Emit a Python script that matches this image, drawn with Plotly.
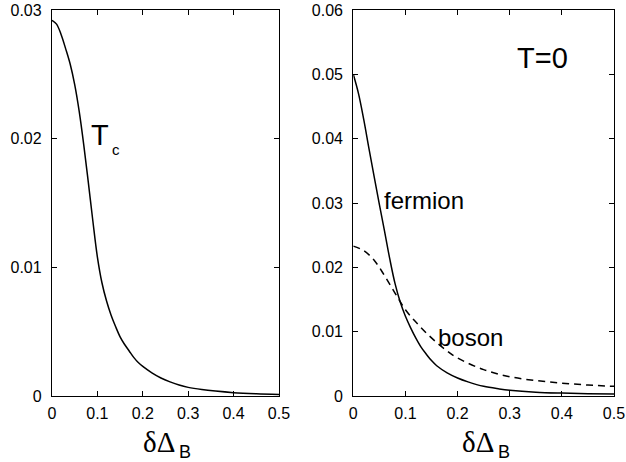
import plotly.graph_objects as go

# ---- data ----
x_tc = [0, 0.01, 0.02, 0.03, 0.04, 0.05, 0.06, 0.07, 0.08, 0.09, 0.10, 0.11, 0.12, 0.13,
        0.14, 0.15, 0.16, 0.17, 0.18, 0.19, 0.20, 0.22, 0.24, 0.26, 0.28, 0.30, 0.33,
        0.36, 0.40, 0.45, 0.50]
y_tc = [0.0292, 0.0289, 0.0281, 0.0270, 0.0258, 0.0242, 0.0221, 0.0195, 0.0166, 0.0136,
        0.0108, 0.0088, 0.0074, 0.0063, 0.0054, 0.0046, 0.0040, 0.0035, 0.0030, 0.0026,
        0.0023, 0.0018, 0.0014, 0.0011, 0.00085, 0.00067, 0.00050, 0.00038, 0.00026,
        0.00017, 0.00011]

x_fermion = [0, 0.01, 0.02, 0.03, 0.04, 0.05, 0.06, 0.07, 0.08, 0.09, 0.10, 0.11, 0.12,
             0.13, 0.14, 0.15, 0.16, 0.18, 0.20, 0.22, 0.25, 0.28, 0.30, 0.35, 0.40,
             0.45, 0.50]
y_fermion = [0.0500, 0.0470, 0.0430, 0.0385, 0.0341, 0.0298, 0.0256, 0.0213, 0.0175,
             0.0146, 0.0124, 0.0106, 0.0090, 0.0076, 0.0065, 0.0055, 0.0047, 0.0036,
             0.0028, 0.0022, 0.0015, 0.0011, 0.0009, 0.0006, 0.00045, 0.00035, 0.0003]

x_boson = [0, 0.02, 0.04, 0.06, 0.08, 0.10, 0.12, 0.14, 0.16, 0.18, 0.20, 0.25, 0.30,
           0.35, 0.40, 0.45, 0.50]
y_boson = [0.0233, 0.0226, 0.0211, 0.0187, 0.0160, 0.0134, 0.0115, 0.0098, 0.0083, 0.0070,
           0.0059, 0.0041, 0.0030, 0.0024, 0.0020, 0.0017, 0.0015]

x_ticks = [0, 0.1, 0.2, 0.3, 0.4, 0.5]
x_ticklabels = ["0", "0.1", "0.2", "0.3", "0.4", "0.5"]
y1_ticks = [0, 0.01, 0.02, 0.03]
y1_ticklabels = ["0", "0.01", "0.02", "0.03"]
y2_ticks = [0, 0.01, 0.02, 0.03, 0.04, 0.05, 0.06]
y2_ticklabels = ["0", "0.01", "0.02", "0.03", "0.04", "0.05", "0.06"]

FONT = "Liberation Sans, Arial, sans-serif"
SERIF = "Liberation Serif, Times New Roman, serif"

fig = go.Figure()
fig.add_trace(go.Scatter(x=x_tc, y=y_tc, mode="lines", xaxis="x", yaxis="y",
                         line=dict(color="black", width=1.5, shape="spline", smoothing=1),
                         showlegend=False))
fig.add_trace(go.Scatter(x=x_fermion, y=y_fermion, mode="lines", xaxis="x2", yaxis="y2",
                         line=dict(color="black", width=1.5, shape="spline", smoothing=1),
                         showlegend=False))
fig.add_trace(go.Scatter(x=x_boson, y=y_boson, mode="lines", xaxis="x2", yaxis="y2",
                         line=dict(color="black", width=1.5, dash="7px,5px",
                                   shape="spline", smoothing=1),
                         showlegend=False))

axis_common = dict(showline=True, linecolor="black", linewidth=1.3, mirror="ticks",
                   ticks="inside", ticklen=5, tickwidth=1, tickcolor="black",
                   showgrid=False, zeroline=False, automargin=False,
                   tickfont=dict(family=FONT, size=16, color="black"))

fig.update_layout(
    width=626, height=462,
    margin=dict(l=52, r=12, t=10, b=66, autoexpand=False),
    paper_bgcolor="white", plot_bgcolor="white",
    font=dict(family=FONT, color="black"),
    xaxis=dict(domain=[0, 0.4039], range=[0, 0.5], anchor="y",
               tickvals=x_ticks, ticktext=x_ticklabels, ticklabelstandoff=3, **axis_common),
    yaxis=dict(domain=[0, 1], range=[0, 0.03], anchor="x",
               tickvals=y1_ticks, ticktext=y1_ticklabels, ticklabelstandoff=6, **axis_common),
    xaxis2=dict(domain=[0.5361, 1], range=[0, 0.5], anchor="y2",
                tickvals=x_ticks, ticktext=x_ticklabels, ticklabelstandoff=3, **axis_common),
    yaxis2=dict(domain=[0, 1], range=[0, 0.06], anchor="x2",
                tickvals=y2_ticks, ticktext=y2_ticklabels, ticklabelstandoff=6, **axis_common),
)

annotations = []
for ax in ("x", "x2"):
    annotations.append(dict(text="δΔ", xref=ax + " domain", yref="paper", x=0.5, y=-0.073,
                            xanchor="right", yanchor="top", xshift=12, showarrow=False,
                            font=dict(family=SERIF, size=29)))
    annotations.append(dict(text="B", xref=ax + " domain", yref="paper", x=0.5, y=-0.113,
                            xanchor="left", yanchor="top", xshift=12, showarrow=False,
                            font=dict(family=FONT, size=18)))

annotations += [
    dict(text="T", xref="x", yref="y", x=0.1066, y=0.02028, showarrow=False,
         xanchor="center", yanchor="middle", font=dict(family=FONT, size=29)),
    dict(text="c", xref="x", yref="y", x=0.1417, y=0.01914, showarrow=False,
         xanchor="center", yanchor="middle", font=dict(family=FONT, size=15)),
    dict(text="T=0", xref="x2", yref="y2", x=0.362, y=0.05256, showarrow=False,
         xanchor="center", yanchor="middle", font=dict(family=FONT, size=29)),
    dict(text="fermion", xref="x2", yref="y2", x=0.1364, y=0.0304, showarrow=False,
         xanchor="center", yanchor="middle", font=dict(family=FONT, size=24)),
    dict(text="boson", xref="x2", yref="y2", x=0.2257, y=0.00916, showarrow=False,
         xanchor="center", yanchor="middle", font=dict(family=FONT, size=24)),
]
fig.update_layout(annotations=annotations)

fig.write_html("out.html",
               config={"displayModeBar": False},
               post_script="document.body.style.margin='0px';"
                           "document.body.style.overflow='hidden';")
